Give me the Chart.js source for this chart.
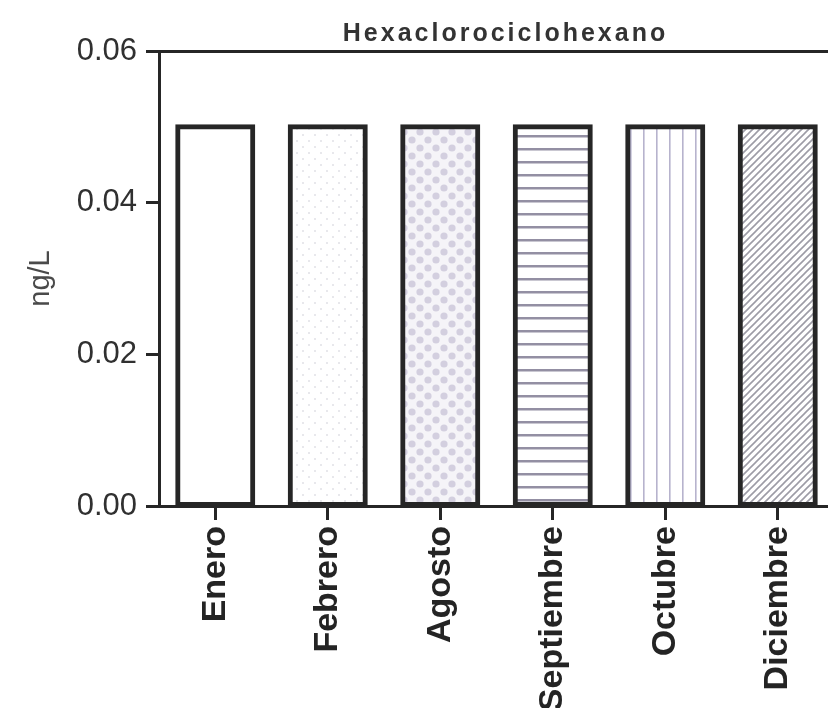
<!DOCTYPE html>
<html>
<head>
<meta charset="utf-8">
<script src="https://cdn.jsdelivr.net/npm/chart.js@4.4.1/dist/chart.umd.min.js"></script>
<style>
  html, body { margin: 0; padding: 0; background: #ffffff; overflow: hidden; }
  #wrap { width: 828px; height: 708px; overflow: hidden; position: relative; }
  canvas { display: block; }
</style>
</head>
<body>
<div id="wrap"><canvas id="c" width="834" height="708"></canvas></div>
<script>
// ---- data ----
const chartTitle = 'Hexaclorociclohexano';
const yAxisLabel = 'ng/L';
const categories = ['Enero', 'Febrero', 'Agosto', 'Septiembre', 'Octubre', 'Diciembre'];
const values = [0.05, 0.05, 0.05, 0.05, 0.05, 0.05];
const yTicks = [0.00, 0.02, 0.04, 0.06];

const FONT = "'Liberation Sans', Arial, Helvetica, sans-serif";
const INK = '#262626';

// ---- fill patterns ----
function makeTile(w, h, paint) {
  const c = document.createElement('canvas');
  c.width = w; c.height = h;
  const g = c.getContext('2d');
  g.fillStyle = '#ffffff';
  g.fillRect(0, 0, w, h);
  paint(g, w, h);
  return document.getElementById('c').getContext('2d').createPattern(c, 'repeat');
}
const fills = [
  '#ffffff',
  makeTile(12, 12, (g) => {            // faint sparse dots
    g.fillStyle = '#e8e8ec';
    g.fillRect(2, 2, 2, 2);
    g.fillRect(8, 8, 2, 2);
  }),
  makeTile(16, 16, (g) => {            // staggered dots (checker-like)
    g.fillStyle = '#f5f4f8';
    g.fillRect(0, 0, 16, 16);
    g.fillStyle = '#d3cfdf';
    g.beginPath(); g.arc(4, 4, 3.6, 0, Math.PI * 2); g.fill();
    g.beginPath(); g.arc(12, 12, 3.6, 0, Math.PI * 2); g.fill();
  }),
  makeTile(8, 13, (g, w) => {          // horizontal lines
    g.fillStyle = '#938fa3';
    g.fillRect(0, 5, w, 2.5);
  }),
  makeTile(13, 8, (g, w, h) => {       // vertical lines
    g.fillStyle = '#b7b3cd';
    g.fillRect(6, 0, 1.6, h);
  }),
  makeTile(7, 7, (g) => {              // diagonal hatch
    g.strokeStyle = '#9d9ca6';
    g.lineWidth = 1.6;
    g.beginPath();
    g.moveTo(-1, 8); g.lineTo(8, -1);
    g.moveTo(-4.5, 4.5); g.lineTo(4.5, -4.5);
    g.moveTo(2.5, 11.5); g.lineTo(11.5, 2.5);
    g.stroke();
  })
];

// ---- spaced title plugin ----
const spacedTitle = {
  id: 'spacedTitle',
  afterDraw(chart) {
    const { ctx, chartArea } = chart;
    ctx.save();
    ctx.font = 'bold 25px ' + FONT;
    ctx.fillStyle = '#333333';
    ctx.textAlign = 'center';
    ctx.textBaseline = 'alphabetic';
    if ('letterSpacing' in ctx) ctx.letterSpacing = '3px';
    ctx.fillText(chartTitle, (chartArea.left + chartArea.right) / 2 + 9, 41);
    ctx.restore();
  }
};

new Chart(document.getElementById('c'), {
  type: 'bar',
  data: {
    labels: categories,
    datasets: [{
      data: values,
      backgroundColor: fills,
      borderColor: INK,
      borderWidth: 5,
      borderSkipped: false,
      inflateAmount: 2.5,
      barPercentage: 0.667,
      categoryPercentage: 1.0
    }]
  },
  options: {
    responsive: false,
    animation: false,
    devicePixelRatio: 1,
    layout: { padding: { left: 24, top: 51, right: 0, bottom: 0 } },
    plugins: {
      legend: { display: false },
      tooltip: { enabled: false },
      title: { display: false }
    },
    scales: {
      x: {
        type: 'category',
        offset: true,
        grid: {
          display: true,
          drawOnChartArea: false,
          drawTicks: true,
          tickLength: 14,
          tickColor: INK,
          tickWidth: 3,
          offset: false
        },
        border: { display: true, color: INK, width: 3 },
        ticks: {
          autoSkip: false,
          maxRotation: 90,
          minRotation: 90,
          padding: 6,
          color: '#242424',
          font: { family: FONT, size: 34, weight: 'bold' }
        },
        afterFit(scale) { scale.height = 202; }
      },
      y: {
        type: 'linear',
        min: 0,
        max: 0.06,
        afterBuildTicks(scale) { scale.ticks = yTicks.map(v => ({ value: v })); },
        grid: {
          display: true,
          drawTicks: true,
          tickLength: 13,
          tickColor: INK,
          tickWidth: 3,
          lineWidth: 3,
          color: (c) => (c.index === yTicks.length - 1 ? INK : 'rgba(0,0,0,0)')
        },
        border: { display: true, color: INK, width: 3 },
        ticks: {
          padding: 9,
          color: '#303030',
          font: { family: FONT, size: 31 },
          callback: (v) => Number(v).toFixed(2)
        },
        title: {
          display: true,
          text: yAxisLabel,
          color: '#4a4a4a',
          font: { family: FONT, size: 29 },
          padding: 0
        },
        afterFit(scale) { scale.width = 135; }
      }
    }
  },
  plugins: [spacedTitle]
});
</script>
</body>
</html>
